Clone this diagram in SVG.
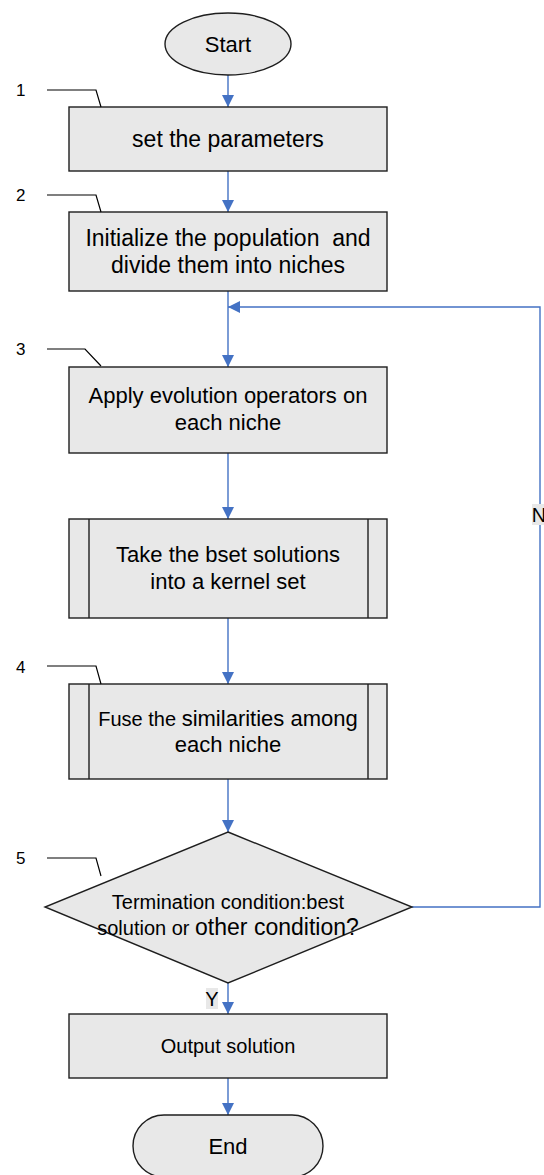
<svg xmlns="http://www.w3.org/2000/svg" width="544" height="1175" viewBox="0 0 544 1175">
<defs>
<style>
.shape{fill:#e8e8e8;stroke:#1e1e1e;stroke-width:1.4}
.inner{fill:none;stroke:#1e1e1e;stroke-width:1.4}
.t{font-family:"Liberation Sans",Arial,sans-serif;fill:#000;text-anchor:middle}
.f23{font-size:23px}
.f22{font-size:22px}
.f20{font-size:20px}
.num{font-family:"Liberation Sans",Arial,sans-serif;font-size:17px;fill:#000}
.lead{fill:none;stroke:#000;stroke-width:1.2}
.conn{fill:none;stroke:#4472c4;stroke-width:1.4}
.lbl{fill:#e8e8e8}
</style>
<marker id="arr" markerWidth="12" markerHeight="12" refX="12" refY="6" orient="auto" markerUnits="userSpaceOnUse" viewBox="0 0 12 12">
<path d="M0,0 L12,6 L0,12 Z" fill="#4472c4"/>
</marker>
</defs>
<rect width="544" height="1175" fill="#fff"/>

<g id="connectors">
<path class="conn" d="M228,75 L228,107" marker-end="url(#arr)"/>
<path class="conn" d="M228,171 L228,212" marker-end="url(#arr)"/>
<path class="conn" d="M228,291 L228,367" marker-end="url(#arr)"/>
<path class="conn" d="M412,907 L540,907 L540,307 L228,307" marker-end="url(#arr)"/>
<path class="conn" d="M228,453 L228,519" marker-end="url(#arr)"/>
<path class="conn" d="M228,618 L228,684" marker-end="url(#arr)"/>
<path class="conn" d="M228,779 L228,832" marker-end="url(#arr)"/>
<path class="conn" d="M228,983 L228,1014" marker-end="url(#arr)"/>
<path class="conn" d="M228,1078 L228,1115" marker-end="url(#arr)"/>
<g id="label-N">
<rect class="lbl" x="532" y="504" width="12" height="21"/>
<text class="t f20" x="539" y="522">N</text>
</g>
<g id="label-Y">
<rect class="lbl" x="206" y="988" width="12" height="21"/>
<text class="t f20" x="212" y="1006">Y</text>
</g>
</g>

<g id="start">
<ellipse class="shape" cx="228" cy="44" rx="63" ry="31"/>
<text class="t f22" x="228" y="52">Start</text>
</g>

<g id="step1">
<rect class="shape" x="69" y="107" width="318" height="64"/>
<text class="t f23" x="228" y="147">set the parameters</text>
</g>

<g id="step2">
<rect class="shape" x="69" y="212" width="318" height="79"/>
<text class="t f23" x="228" y="246" xml:space="preserve">Initialize the population  and</text>
<text class="t f23" x="228" y="273">divide them into niches</text>
</g>

<g id="step3">
<rect class="shape" x="69" y="367" width="318" height="86"/>
<text class="t f22" x="228" y="403">Apply evolution operators on</text>
<text class="t f22" x="228" y="430">each niche</text>
</g>

<g id="kernel">
<rect class="shape" x="69" y="519" width="318" height="99"/>
<line class="inner" x1="89" y1="519" x2="89" y2="618"/>
<line class="inner" x1="368" y1="519" x2="368" y2="618"/>
<text class="t f22" x="228" y="562">Take the bset solutions</text>
<text class="t f22" x="228" y="589">into a kernel set</text>
</g>

<g id="step4">
<rect class="shape" x="69" y="684" width="318" height="95"/>
<line class="inner" x1="89" y1="684" x2="89" y2="779"/>
<line class="inner" x1="368" y1="684" x2="368" y2="779"/>
<text class="t f22" x="228" y="726"><tspan font-size="20">Fuse the </tspan>similarities among</text>
<text class="t f22" x="228" y="752">each niche</text>
</g>

<g id="decision">
<polygon class="shape" points="228,832 412,907 228,983 45,907"/>
<text class="t f20" x="228" y="909">Termination condition:best</text>
<text class="t f20" x="228" y="935">solution or <tspan font-size="23">other condition?</tspan></text>
</g>

<g id="output">
<rect class="shape" x="69" y="1014" width="318" height="64"/>
<text class="t f20" x="228" y="1053">Output solution</text>
</g>

<g id="end">
<rect class="shape" x="133" y="1115" width="190" height="62" rx="31" ry="31"/>
<text class="t f22" x="228" y="1154">End</text>
</g>

<g id="annotations">
<text class="num" x="16" y="96">1</text>
<path class="lead" d="M47,90 L96,90 L101,107"/>
<text class="num" x="16" y="201">2</text>
<path class="lead" d="M47,195 L96,195 L101,212"/>
<text class="num" x="16" y="355">3</text>
<path class="lead" d="M47,349 L85,349 L101,366"/>
<text class="num" x="16" y="673">4</text>
<path class="lead" d="M47,666 L96,666 L101,684"/>
<text class="num" x="16" y="864">5</text>
<path class="lead" d="M47,858 L96,858 L101,876"/>
</g>
</svg>
